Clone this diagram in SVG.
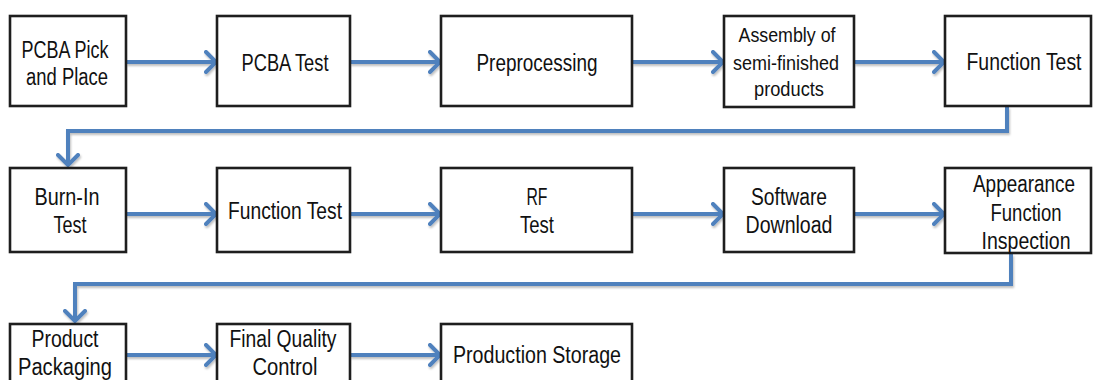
<svg xmlns="http://www.w3.org/2000/svg" width="1095" height="380" viewBox="0 0 1095 380">
<style>
.box{fill:#fff;stroke:#1e1e1e;stroke-width:2.6}
.t{font-family:"Liberation Sans",Arial,sans-serif;font-size:23px;fill:#111;text-anchor:middle}
.s{font-size:20px}
.c{fill:none;stroke:#4F81BD;stroke-width:4;filter:url(#sh)}
</style>
<defs>
<filter id="sh" filterUnits="userSpaceOnUse" x="0" y="0" width="1095" height="380">
<feDropShadow dx="1" dy="2" stdDeviation="1" flood-color="#000" flood-opacity="0.25"/>
</filter>
<marker id="ah" viewBox="0 0 14 24" refX="12" refY="12" markerWidth="14" markerHeight="24" markerUnits="userSpaceOnUse" orient="auto">
<path d="M2,2 L12,12 L2,22" fill="none" stroke="#4F81BD" stroke-width="4" stroke-linecap="round"/>
</marker>
</defs>
<rect width="1095" height="380" fill="#fff"/>
<g id="connectors">
<line class="c" x1="126" y1="62" x2="216" y2="62" marker-end="url(#ah)"/>
<line class="c" x1="350" y1="62" x2="440" y2="62" marker-end="url(#ah)"/>
<line class="c" x1="632" y1="62" x2="723" y2="62" marker-end="url(#ah)"/>
<line class="c" x1="854" y1="62" x2="944" y2="62" marker-end="url(#ah)"/>
<polyline class="c" points="1007,107 1007,131 68,131 68,165" marker-end="url(#ah)"/>
<line class="c" x1="126" y1="214" x2="216" y2="214" marker-end="url(#ah)"/>
<line class="c" x1="350" y1="214" x2="440" y2="214" marker-end="url(#ah)"/>
<line class="c" x1="632" y1="214" x2="723" y2="214" marker-end="url(#ah)"/>
<line class="c" x1="854" y1="214" x2="944" y2="214" marker-end="url(#ah)"/>
<polyline class="c" points="1011,254 1011,284 75,284 75,321" marker-end="url(#ah)"/>
<line class="c" x1="126" y1="355" x2="216" y2="355" marker-end="url(#ah)"/>
<line class="c" x1="350" y1="355" x2="440" y2="355" marker-end="url(#ah)"/>
</g>
<g id="n1"><rect class="box" x="10" y="16" width="116" height="90"/>
<text class="t" x="65" y="58" textLength="87" lengthAdjust="spacingAndGlyphs">PCBA Pick</text>
<text class="t" x="67" y="85" textLength="82" lengthAdjust="spacingAndGlyphs">and Place</text></g>
<g id="n2"><rect class="box" x="217" y="16" width="133" height="90"/>
<text class="t" x="285" y="71" textLength="87" lengthAdjust="spacingAndGlyphs">PCBA Test</text></g>
<g id="n3"><rect class="box" x="441" y="16" width="191" height="90"/>
<text class="t" x="537" y="71" textLength="121" lengthAdjust="spacingAndGlyphs">Preprocessing</text></g>
<g id="n4"><rect class="box" x="724" y="16" width="130" height="91"/>
<text class="t s" x="787" y="42" textLength="97" lengthAdjust="spacingAndGlyphs">Assembly of</text>
<text class="t s" x="786" y="70" textLength="106" lengthAdjust="spacingAndGlyphs">semi-finished</text>
<text class="t s" x="789" y="96" textLength="70" lengthAdjust="spacingAndGlyphs">products</text></g>
<g id="n5"><rect class="box" x="945" y="16" width="146" height="90"/>
<text class="t" x="1024" y="70" font-size="22" textLength="115" lengthAdjust="spacingAndGlyphs">Function Test</text></g>
<g id="n6"><rect class="box" x="10" y="168" width="116" height="84"/>
<text class="t" x="67" y="205" textLength="65" lengthAdjust="spacingAndGlyphs">Burn-In</text>
<text class="t" x="70" y="233" textLength="33" lengthAdjust="spacingAndGlyphs">Test</text></g>
<g id="n7"><rect class="box" x="217" y="168" width="133" height="84"/>
<text class="t" x="285" y="219" textLength="114" lengthAdjust="spacingAndGlyphs">Function Test</text></g>
<g id="n8"><rect class="box" x="441" y="168" width="191" height="84"/>
<text class="t" x="537" y="205" textLength="21" lengthAdjust="spacingAndGlyphs">RF</text>
<text class="t" x="537" y="233" textLength="34" lengthAdjust="spacingAndGlyphs">Test</text></g>
<g id="n9"><rect class="box" x="724" y="168" width="130" height="84"/>
<text class="t" x="789" y="205" textLength="76" lengthAdjust="spacingAndGlyphs">Software</text>
<text class="t" x="789" y="233" textLength="87" lengthAdjust="spacingAndGlyphs">Download</text></g>
<g id="n10"><rect class="box" x="945" y="168" width="146" height="85"/>
<text class="t" x="1024" y="192" textLength="102" lengthAdjust="spacingAndGlyphs">Appearance</text>
<text class="t" x="1026" y="221" textLength="71" lengthAdjust="spacingAndGlyphs">Function</text>
<text class="t" x="1026" y="249" textLength="89" lengthAdjust="spacingAndGlyphs">Inspection</text></g>
<g id="n11"><rect class="box" x="10" y="324" width="116" height="70"/>
<text class="t" x="65" y="347" textLength="67" lengthAdjust="spacingAndGlyphs">Product</text>
<text class="t" x="65" y="375" textLength="94" lengthAdjust="spacingAndGlyphs">Packaging</text></g>
<g id="n12"><rect class="box" x="217" y="324" width="133" height="70"/>
<text class="t" x="283" y="347" textLength="107" lengthAdjust="spacingAndGlyphs">Final Quality</text>
<text class="t" x="285" y="375" textLength="65" lengthAdjust="spacingAndGlyphs">Control</text></g>
<g id="n13"><rect class="box" x="441" y="324" width="191" height="70"/>
<text class="t" x="537" y="363" textLength="168" lengthAdjust="spacingAndGlyphs">Production Storage</text></g>
</svg>
